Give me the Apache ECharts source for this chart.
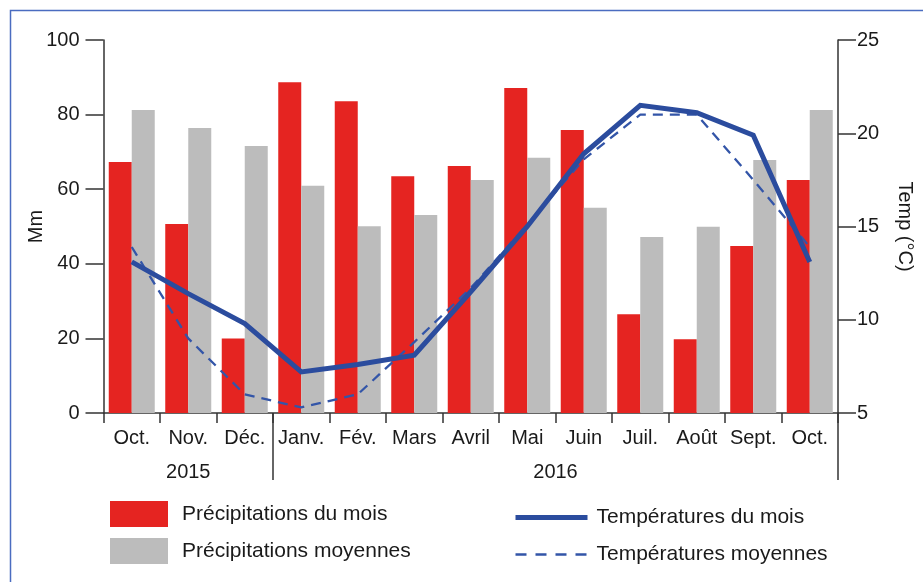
<!DOCTYPE html>
<html>
<head>
<meta charset="utf-8">
<script src="https://cdn.jsdelivr.net/npm/echarts@6/dist/echarts.min.js"></script>
<style>
html,body{margin:0;padding:0;background:#fff;}
#c{width:923px;height:582px;}
</style>
</head>
<body>
<div id="c"></div>
<script>
const months = ['Oct.','Nov.','Déc.','Janv.','Fév.','Mars','Avril','Mai','Juin','Juil.','Août','Sept.','Oct.'];
const yearLabels = ['2015','2016'];
const yearSplitIndex = 3; // first month of 2016
const precipMonth = [67.3, 50.7, 20.0, 88.7, 83.6, 63.5, 66.2, 87.1, 75.9, 26.5, 19.8, 44.8, 62.5];
const precipAvg = [81.2, 76.4, 71.6, 60.9, 50.1, 53.1, 62.5, 68.4, 55.0, 47.2, 49.9, 67.8, 81.2];
const tempMonth = [13.1, 11.4, 9.8, 7.2, 7.6, 8.1, 11.5, 15.0, 18.9, 21.5, 21.1, 19.9, 13.1];
const tempAvg = [13.9, 9.0, 6.0, 5.3, 6.0, 8.8, 11.7, 15.1, 18.6, 21.0, 21.0, 17.5, 13.9];
const leftTicks = {min: 0, max: 100, interval: 20};
const rightTicks = {min: 5, max: 25, interval: 5};

const FONT = 'Liberation Sans';
const TXT = '#1a1a1a';
const RED = '#e52421';
const GRAY = '#bcbcbc';
const BLUE = '#2b4c9e';
const BLUE2 = '#3355a8';
const DASH = [10, 7];

const chart = echarts.init(document.getElementById('c'), null, {renderer: 'canvas'});
const axisLine = {show: true, lineStyle: {color: '#333', width: 1.5}};
const option = {
  animation: false,
  textStyle: {fontFamily: FONT, color: TXT},
  grid: {left: 103.5, right: 85, top: 40, bottom: 169, containLabel: false},
  xAxis: {
    type: 'category', data: months, boundaryGap: true,
    axisLine: {show: true, onZero: false, lineStyle: {color: '#333', width: 1.5}},
    axisTick: {show: true, length: 10, inside: false, lineStyle: {color: '#333', width: 1.5}},
    axisLabel: {margin: 15, fontSize: 20, color: TXT, fontFamily: FONT, interval: 0},
    splitLine: {show: false}
  },
  yAxis: [
    {
      type: 'value', min: leftTicks.min, max: leftTicks.max, interval: leftTicks.interval,
      name: 'Mm', nameLocation: 'middle', nameGap: 57, nameMoveOverlap: false,
      nameTextStyle: {fontSize: 20, color: TXT, fontFamily: FONT},
      axisLine: axisLine,
      axisTick: {show: true, length: 18, lineStyle: {color: '#333', width: 1.5}},
      axisLabel: {margin: 24, fontSize: 20, color: TXT, fontFamily: FONT},
      splitLine: {show: false}
    },
    {
      type: 'value', min: rightTicks.min, max: rightTicks.max, interval: rightTicks.interval,
      position: 'right',
      name: 'Temp (°C)', nameLocation: 'middle', nameGap: 57, nameRotate: -90,
      nameTextStyle: {fontSize: 20, color: TXT, fontFamily: FONT},
      axisLine: axisLine,
      axisTick: {show: true, length: 18, lineStyle: {color: '#333', width: 1.5}},
      axisLabel: {margin: 19, fontSize: 20, color: TXT, fontFamily: FONT},
      splitLine: {show: false}
    }
  ],
  legend: [
    {
      data: ['Précipitations du mois', 'Précipitations moyennes'],
      orient: 'vertical', left: 110, top: 501, padding: 0, icon: 'rect',
      itemWidth: 58, itemHeight: 26, itemGap: 11,
      textStyle: {fontSize: 21, color: TXT, fontFamily: FONT, padding: [4, 0, 0, 9]},
      selectedMode: false
    },
    {
      data: [
        {name: 'Températures du mois', lineStyle: {width: 5, color: BLUE}},
        {name: 'Températures moyennes', lineStyle: {width: 2.5, color: BLUE2, type: [11, 9]}}
      ],
      orient: 'vertical', left: 513, top: 507, padding: 0,
      itemWidth: 72, itemHeight: 26, itemGap: 16,
      itemStyle: {opacity: 0},
      textStyle: {fontSize: 21, color: TXT, fontFamily: FONT, padding: [0, 0, 0, 4]},
      selectedMode: false
    }
  ],
  series: [
    {name: 'Précipitations du mois', type: 'bar', data: precipMonth, barWidth: 23, barGap: '0%',
     itemStyle: {color: RED}, yAxisIndex: 0},
    {name: 'Précipitations moyennes', type: 'bar', data: precipAvg, barWidth: 23, barGap: '0%',
     itemStyle: {color: GRAY}, yAxisIndex: 0},
    {name: 'Températures du mois', type: 'line', data: tempMonth, yAxisIndex: 1,
     symbol: 'none', lineStyle: {color: BLUE, width: 5, join: 'miter'}, itemStyle: {color: BLUE}, z: 5},
    {name: 'Températures moyennes', type: 'line', data: tempAvg, yAxisIndex: 1,
     symbol: 'none', lineStyle: {color: BLUE2, width: 2.3, type: DASH}, itemStyle: {color: BLUE2}, z: 4}
  ]
};
chart.setOption(option);

// annotations computed from the axis scales
const c0 = chart.convertToPixel({xAxisIndex: 0}, 0);
const c1 = chart.convertToPixel({xAxisIndex: 0}, 1);
const band = c1 - c0;
const leftX = c0 - band / 2;
const rightX = chart.convertToPixel({xAxisIndex: 0}, months.length - 1) + band / 2;
const sepX = chart.convertToPixel({xAxisIndex: 0}, yearSplitIndex) - band / 2;
const y0 = chart.convertToPixel({yAxisIndex: 0}, 0);
const lineStyle = {stroke: '#333', lineWidth: 1.5};
chart.setOption({
  graphic: [
    {type: 'rect', shape: {x: 10.5, y: 10.5, width: 1000, height: 1000}, style: {fill: null, stroke: '#4a6cc0', lineWidth: 1.5}, silent: true},
    {type: 'line', shape: {x1: sepX, y1: y0, x2: sepX, y2: y0 + 67}, style: lineStyle},
    {type: 'line', shape: {x1: rightX, y1: y0, x2: rightX, y2: y0 + 67}, style: lineStyle},
    {type: 'text', x: (leftX + sepX) / 2, y: y0 + 59, style: {text: yearLabels[0], fontSize: 20, fontFamily: FONT, fill: TXT, align: 'center', verticalAlign: 'middle'}},
    {type: 'text', x: (sepX + rightX) / 2, y: y0 + 59, style: {text: yearLabels[1], fontSize: 20, fontFamily: FONT, fill: TXT, align: 'center', verticalAlign: 'middle'}}
  ]
});
</script>
</body>
</html>
